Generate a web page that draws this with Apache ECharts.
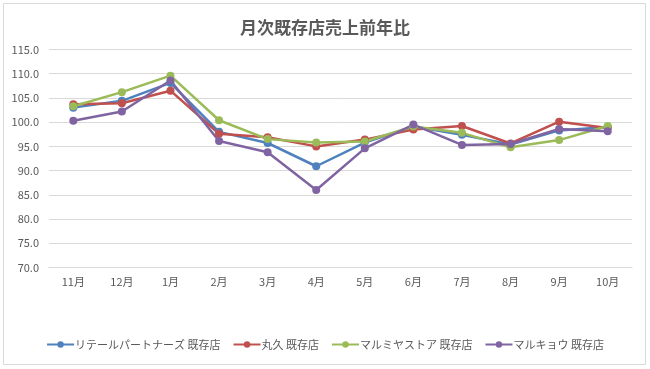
<!DOCTYPE html>
<html><head><meta charset="utf-8">
<script src="https://cdn.jsdelivr.net/npm/echarts@6/dist/echarts.min.js"></script>
<style>html,body{margin:0;padding:0;background:#fff}#c{width:650px;height:369px}</style>
</head><body><div id="c"></div>
<script>
const categories = ['11月','12月','1月','2月','3月','4月','5月','6月','7月','8月','9月','10月'];
const seriesNames = ['リテールパートナーズ 既存店','丸久 既存店','マルミヤストア 既存店','マルキョウ 既存店'];
const retail   = [103.0, 104.4, 108.1, 98.0, 95.7, 90.9, 95.8, 99.1, 97.4, 95.4, 98.3, 99.0];
const marukyu  = [103.7, 103.9, 106.5, 97.6, 96.9, 95.0, 96.4, 98.5, 99.2, 95.6, 100.1, 98.8];
const marumiya = [103.3, 106.2, 109.6, 100.4, 96.5, 95.8, 96.0, 99.1, 97.8, 94.8, 96.3, 99.2];
const marukyou = [100.3, 102.2, 108.6, 96.1, 93.8, 86.0, 94.6, 99.5, 95.3, 95.5, 98.6, 98.1];
const colors = ['#4f81bd','#c0504d','#9bbb59','#8064a2'];
const allData = [retail, marukyu, marumiya, marukyou];

const chart = echarts.init(document.getElementById('c'));
const font = '"Noto Sans CJK JP", "Noto Sans", sans-serif';
chart.setOption({
  backgroundColor: '#fff',
  animation: false,
  color: colors,
  graphic: [{type:'rect', shape:{x:3.5,y:3.5,width:642,height:361}, style:{fill:'none', stroke:'#d9d9d9', lineWidth:1}, silent:true}],
  title: {text:'月次既存店売上前年比', left:'center', top:14,
    textStyle:{fontFamily:font, fontSize:17, fontWeight:'bold', color:'#595959'}},
  legend: {bottom:14, left:'center', itemWidth:27, itemHeight:8, itemGap:12,
    textStyle:{fontFamily:font, fontSize:11, color:'#595959', padding:[0,0,0,-4]}},
  grid: {left:49, right:18, top:49.5, bottom:101.5, containLabel:false},
  xAxis: {type:'category', data:categories, boundaryGap:true,
    axisLine:{show:true, lineStyle:{color:'#d9d9d9'}}, axisTick:{show:false},
    axisLabel:{fontFamily:font, fontSize:11, color:'#595959', margin:9}},
  yAxis: {type:'value', min:70, max:115, interval:5,
    axisLine:{show:false}, axisTick:{show:false},
    splitLine:{lineStyle:{color:'#d9d9d9'}},
    axisLabel:{fontFamily:font, fontSize:11, color:'#595959', margin:10, formatter:v=>v.toFixed(1)}},
  series: seriesNames.map((n,i)=>({name:n, type:'line', data:allData[i], symbol:'circle', symbolSize:8,
    lineStyle:{width:2.5, color:colors[i]}, itemStyle:{color:colors[i]}}))
});
</script></body></html>
